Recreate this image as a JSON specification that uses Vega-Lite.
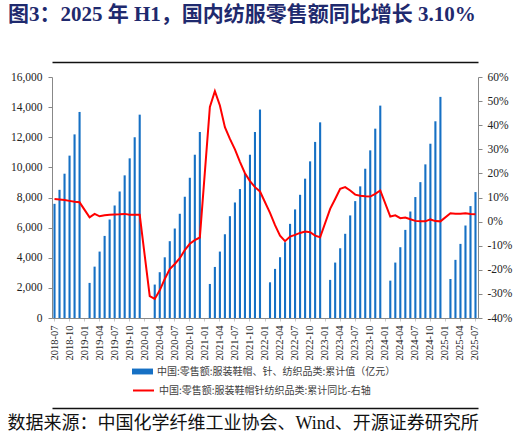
{
  "$schema": "https://vega.github.io/schema/vega-lite/v6.json",
  "width": 426,
  "height": 241,
  "autosize": {"type": "none"},
  "padding": {"left": 52, "top": 77, "right": 44, "bottom": 119},
  "background": "white",
  "title": {
    "text": "图3：2025 年 H1，国内纺服零售额同比增长 3.10%",
    "anchor": "start",
    "frame": "group",
    "font": "Liberation Serif, Noto Sans CJK SC",
    "fontSize": 21,
    "fontWeight": "bold",
    "color": "#1f2a6e",
    "dx": -44,
    "baseline": "bottom",
    "offset": 16
  },
  "data": {
    "values": [
      {"m": "2018-07", "v": 7580, "y": 9.4},
      {"m": "2018-08", "v": 8510, "y": 9.2},
      {"m": "2018-09", "v": 9580, "y": 9.0},
      {"m": "2018-10", "v": 10780, "y": 8.6},
      {"m": "2018-11", "v": 12190, "y": 8.2},
      {"m": "2018-12", "v": 13680, "y": 8.0},
      {"m": "2019-02", "v": 2330, "y": 1.8},
      {"m": "2019-03", "v": 3410, "y": 3.2},
      {"m": "2019-04", "v": 4410, "y": 2.2},
      {"m": "2019-05", "v": 5450, "y": 2.6},
      {"m": "2019-06", "v": 6540, "y": 2.8},
      {"m": "2019-07", "v": 7470, "y": 2.9},
      {"m": "2019-08", "v": 8400, "y": 3.0},
      {"m": "2019-09", "v": 9470, "y": 3.2},
      {"m": "2019-10", "v": 10600, "y": 2.8},
      {"m": "2019-11", "v": 12000, "y": 2.8},
      {"m": "2019-12", "v": 13500, "y": 2.8},
      {"m": "2020-02", "v": null, "y": -30.9},
      {"m": "2020-03", "v": 2220, "y": -32.1},
      {"m": "2020-04", "v": 3040, "y": -28.5},
      {"m": "2020-05", "v": 4030, "y": -23.8},
      {"m": "2020-06", "v": 5100, "y": -19.7},
      {"m": "2020-07", "v": 5940, "y": -17.6},
      {"m": "2020-08", "v": 6920, "y": -15.2},
      {"m": "2020-09", "v": 8050, "y": -11.8},
      {"m": "2020-10", "v": 9310, "y": -9.2},
      {"m": "2020-11", "v": 10840, "y": -7.7},
      {"m": "2020-12", "v": 12350, "y": -6.6},
      {"m": "2021-02", "v": 2260, "y": 47.6},
      {"m": "2021-03", "v": 3390, "y": 54.1},
      {"m": "2021-04", "v": 4410, "y": 48.2},
      {"m": "2021-05", "v": 5560, "y": 39.2},
      {"m": "2021-06", "v": 6760, "y": 34.3},
      {"m": "2021-07", "v": 7670, "y": 30.0},
      {"m": "2021-08", "v": 8560, "y": 24.8},
      {"m": "2021-09", "v": 9620, "y": 20.1},
      {"m": "2021-10", "v": 10840, "y": 16.8},
      {"m": "2021-11", "v": 12350, "y": 14.3},
      {"m": "2021-12", "v": 13840, "y": 12.5},
      {"m": "2022-02", "v": 2370, "y": 3.6},
      {"m": "2022-03", "v": 3260, "y": -1.5},
      {"m": "2022-04", "v": 4035, "y": -5.8},
      {"m": "2022-05", "v": 5030, "y": -8.1},
      {"m": "2022-06", "v": 6250, "y": -6.2},
      {"m": "2022-07", "v": 7210, "y": -5.5},
      {"m": "2022-08", "v": 8180, "y": -4.7},
      {"m": "2022-09", "v": 9250, "y": -4.1},
      {"m": "2022-10", "v": 10400, "y": -4.4},
      {"m": "2022-11", "v": 11690, "y": -5.8},
      {"m": "2022-12", "v": 12990, "y": -6.5},
      {"m": "2023-02", "v": 2530, "y": 5.3},
      {"m": "2023-03", "v": 3680, "y": 9.4},
      {"m": "2023-04", "v": 4630, "y": 13.6},
      {"m": "2023-05", "v": 5590, "y": 14.3},
      {"m": "2023-06", "v": 6810, "y": 12.9},
      {"m": "2023-07", "v": 7760, "y": 11.2},
      {"m": "2023-08", "v": 8740, "y": 10.7},
      {"m": "2023-09", "v": 9910, "y": 10.5},
      {"m": "2023-10", "v": 11130, "y": 10.4},
      {"m": "2023-11", "v": 12570, "y": 11.5},
      {"m": "2023-12", "v": 14100, "y": 12.9},
      {"m": "2024-02", "v": 2480, "y": 2.1},
      {"m": "2024-03", "v": 3680, "y": 2.6},
      {"m": "2024-04", "v": 4700, "y": 1.4},
      {"m": "2024-05", "v": 5850, "y": 1.7},
      {"m": "2024-06", "v": 7070, "y": 1.0},
      {"m": "2024-07", "v": 8030, "y": 0.3},
      {"m": "2024-08", "v": 9020, "y": 0.1},
      {"m": "2024-09", "v": 10200, "y": 0.1},
      {"m": "2024-10", "v": 11570, "y": 0.9},
      {"m": "2024-11", "v": 13060, "y": 0.2},
      {"m": "2024-12", "v": 14680, "y": 0.1},
      {"m": "2025-02", "v": 2590, "y": 3.5},
      {"m": "2025-03", "v": 3860, "y": 3.3},
      {"m": "2025-04", "v": 4920, "y": 3.3},
      {"m": "2025-05", "v": 6140, "y": 3.5},
      {"m": "2025-06", "v": 7430, "y": 3.2},
      {"m": "2025-07", "v": 8360, "y": 3.1}
    ]
  },
  "layer": [
    {
      "transform": [{"filter": "isValid(datum.v)"}],
      "mark": {"type": "bar"},
      "encoding": {
        "x": {
          "field": "m",
          "type": "ordinal",
          "sort": null,
          "scale": {
            "type": "band",
            "paddingInner": 0.58,
            "paddingOuter": 0.29,
            "domain": ["2018-07","2018-08","2018-09","2018-10","2018-11","2018-12",
              "2019-01","2019-02","2019-03","2019-04","2019-05","2019-06","2019-07","2019-08","2019-09","2019-10","2019-11","2019-12",
              "2020-01","2020-02","2020-03","2020-04","2020-05","2020-06","2020-07","2020-08","2020-09","2020-10","2020-11","2020-12",
              "2021-01","2021-02","2021-03","2021-04","2021-05","2021-06","2021-07","2021-08","2021-09","2021-10","2021-11","2021-12",
              "2022-01","2022-02","2022-03","2022-04","2022-05","2022-06","2022-07","2022-08","2022-09","2022-10","2022-11","2022-12",
              "2023-01","2023-02","2023-03","2023-04","2023-05","2023-06","2023-07","2023-08","2023-09","2023-10","2023-11","2023-12",
              "2024-01","2024-02","2024-03","2024-04","2024-05","2024-06","2024-07","2024-08","2024-09","2024-10","2024-11","2024-12",
              "2025-01","2025-02","2025-03","2025-04","2025-05","2025-06","2025-07"]
          },
          "axis": {
            "orient": "bottom",
            "title": null,
            "values": ["2018-07","2018-10","2019-01","2019-04","2019-07","2019-10","2020-01","2020-04","2020-07","2020-10","2021-01","2021-04","2021-07","2021-10","2022-01","2022-04","2022-07","2022-10","2023-01","2023-04","2023-07","2023-10","2024-01","2024-04","2024-07","2024-10","2025-01","2025-04","2025-07"],
            "labelAngle": 270,
            "labelAlign": "right",
            "labelBaseline": "middle",
            "labelFont": "Liberation Serif",
            "labelFontSize": 10.5,
            "labelColor": "#222",
            "labelPadding": 4,
            "labelOverlap": false,
            "ticks": true,
            "tickSize": 3,
            "tickColor": "#c8c8c8",
            "domainColor": "#888",
            "domainWidth": 1
          }
        },
        "y": {
          "field": "v",
          "type": "quantitative",
          "scale": {"domain": [0, 16000], "nice": false},
          "axis": {
            "orient": "left",
            "title": null,
            "values": [0, 2000, 4000, 6000, 8000, 10000, 12000, 14000, 16000],
            "format": ",.0f",
            "labelFont": "Liberation Serif",
            "labelFontSize": 11.5,
            "labelColor": "#222",
            "labelPadding": 6,
            "tickSize": 4,
            "tickColor": "#888",
            "domainColor": "#888",
            "grid": false
          }
        },
        "fill": {
          "datum": "中国:零售额:服装鞋帽、针、纺织品类:累计值（亿元）",
          "type": "nominal",
          "scale": {"range": ["#1670c4"]},
          "legend": {
            "orient": "none",
            "legendX": 80,
            "legendY": 284,
            "title": null,
            "padding": 0,
            "symbolType": "M-1,-0.28H1V0.28H-1Z",
            "symbolSize": 441,
            "symbolStrokeWidth": 0,
            "labelFont": "Noto Sans CJK SC",
            "labelFontSize": 10,
            "labelColor": "#404040",
            "labelLimit": 400
          }
        }
      }
    },
    {
      "mark": {"type": "line", "strokeWidth": 2},
      "encoding": {
        "x": {
          "field": "m",
          "type": "ordinal",
          "sort": null,
          "axis": {
            "orient": "top",
            "offset": 15,
            "title": null,
            "labels": false,
            "ticks": false,
            "domainColor": "#111",
            "domainWidth": 1.5
          }
        },
        "y": {
          "field": "y",
          "type": "quantitative",
          "scale": {"domain": [-40, 60], "nice": false},
          "axis": {
            "orient": "right",
            "title": null,
            "values": [-40, -30, -20, -10, 0, 10, 20, 30, 40, 50, 60],
            "labelExpr": "datum.value + '%'",
            "labelFont": "Liberation Serif",
            "labelFontSize": 11.5,
            "labelColor": "#222",
            "labelPadding": 5,
            "tickSize": 4,
            "tickColor": "#888",
            "domainColor": "#888",
            "grid": false
          }
        },
        "stroke": {
          "datum": "中国:零售额:服装鞋帽针纺织品类:累计同比-右轴",
          "type": "nominal",
          "scale": {"range": ["#ff0000"]},
          "legend": {
            "orient": "none",
            "legendX": 80,
            "legendY": 302,
            "title": null,
            "padding": 0,
            "symbolType": "stroke",
            "symbolSize": 441,
            "symbolStrokeWidth": 2,
            "labelFont": "Noto Sans CJK SC",
            "labelFontSize": 10,
            "labelColor": "#404040",
            "labelLimit": 400
          }
        }
      }
    },
    {
      "mark": {"type": "tick", "opacity": 0},
      "encoding": {
        "x": {
          "field": "m",
          "type": "ordinal",
          "sort": null,
          "axis": {
            "orient": "bottom",
            "offset": 90,
            "labels": false,
            "ticks": false,
            "domainColor": "#111",
            "domainWidth": 1.5,
            "title": "数据来源：中国化学纤维工业协会、Wind、开源证券研究所",
            "titleFont": "Liberation Serif, Noto Sans CJK SC",
            "titleFontSize": 18,
            "titleFontWeight": "normal",
            "titleColor": "#111",
            "titleAnchor": "start",
            "titleAlign": "left",
            "titleX": -45,
            "titlePadding": 6
          }
        }
      }
    }
  ],
  "resolve": {
    "scale": {"y": "independent"},
    "axis": {"x": "independent"}
  },
  "config": {
    "view": {"stroke": null},
    "axis": {"grid": false}
  }
}
